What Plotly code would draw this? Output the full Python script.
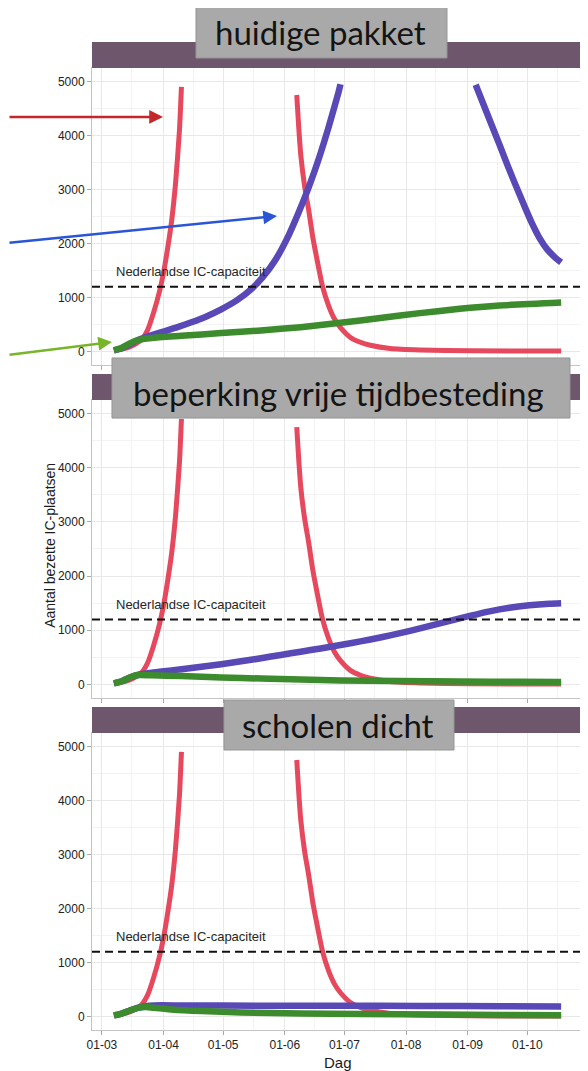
import plotly.graph_objects as go
from plotly.subplots import make_subplots

# ---- data ----
panel_titles = ["huidige pakket", "beperking vrije tijdbesteding", "scholen dicht"]
ic_capacity = 1200
ic_label = "Nederlandse IC-capaciteit"
y_label = "Aantal bezette IC-plaatsen"
x_label = "Dag"

month_ticks = ["2020-03-01", "2020-04-01", "2020-05-01", "2020-06-01",
               "2020-07-01", "2020-08-01", "2020-09-01", "2020-10-01"]
month_labels = ["01-03", "01-04", "01-05", "01-06", "01-07", "01-08", "01-09", "01-10"]
y_ticks = [0, 1000, 2000, 3000, 4000, 5000]

# red: same scenario in every panel (values above 5000 dropped)
red_dates = ["2020-03-07", "2020-03-11", "2020-03-15", "2020-03-18", "2020-03-21",
             "2020-03-24", "2020-03-27", "2020-03-30", "2020-04-01", "2020-04-03",
             "2020-04-05", "2020-04-07", "2020-04-09", "2020-04-10", "2020-04-11",
             "2020-06-07", "2020-06-08", "2020-06-09", "2020-06-11", "2020-06-13",
             "2020-06-15", "2020-06-17", "2020-06-20", "2020-06-23", "2020-06-26",
             "2020-06-29", "2020-07-04", "2020-07-09", "2020-07-14", "2020-07-24",
             "2020-08-08", "2020-09-02", "2020-10-18"]
red_values = [25, 45, 85, 140, 220,
              400, 720, 1120, 1460, 1900,
              2400, 3100, 4100, 4900, None,
              4750, 4150, 3650, 3050, 2620,
              2130, 1740, 1200, 850, 600,
              440, 260, 170, 115, 55,
              28, 12, 8]

# panel 1: huidige pakket
blue1_dates = ["2020-03-07", "2020-03-11", "2020-03-15", "2020-03-19", "2020-03-25",
               "2020-03-31", "2020-04-08", "2020-04-15", "2020-04-22", "2020-04-30",
               "2020-05-08", "2020-05-15", "2020-05-21", "2020-05-27", "2020-06-02",
               "2020-06-08", "2020-06-13", "2020-06-18", "2020-06-23", "2020-06-28",
               "2020-06-29", "2020-06-30",
               "2020-09-05", "2020-09-09", "2020-09-13", "2020-09-17", "2020-09-21",
               "2020-09-25", "2020-09-29", "2020-10-03", "2020-10-07", "2020-10-11",
               "2020-10-15", "2020-10-18"]
blue1_values = [20, 60, 130, 210, 290,
                360, 450, 540, 640, 780,
                950, 1150, 1380, 1680, 2080,
                2580, 3040, 3560, 4150, 4800,
                4950, None,
                4940, 4570, 4200, 3830, 3450,
                3090, 2740, 2400, 2110, 1890,
                1740, 1650]
green1_dates = ["2020-03-07", "2020-03-11", "2020-03-15", "2020-03-19", "2020-03-26",
                "2020-04-10", "2020-04-30", "2020-05-20", "2020-06-09", "2020-06-29",
                "2020-07-19", "2020-08-08", "2020-08-28", "2020-09-17", "2020-10-18"]
green1_values = [20, 70, 150, 210, 250,
                 290, 340, 390, 450, 530,
                 620, 710, 790, 850, 905]

# panel 2: beperking vrije tijdbesteding
blue2_dates = ["2020-03-07", "2020-03-11", "2020-03-15", "2020-03-19", "2020-03-26",
               "2020-04-05", "2020-04-15", "2020-04-25", "2020-05-05", "2020-05-15",
               "2020-05-25", "2020-06-04", "2020-06-14", "2020-06-24", "2020-07-04",
               "2020-07-14", "2020-07-24", "2020-08-03", "2020-08-13", "2020-08-23",
               "2020-09-02", "2020-09-12", "2020-09-22", "2020-10-02", "2020-10-12",
               "2020-10-18"]
blue2_values = [20, 60, 130, 175, 215,
                260, 305, 350, 400, 455,
                515, 575, 635, 695, 760,
                830, 905, 990, 1080, 1175,
                1265, 1350, 1415, 1460, 1490,
                1500]
green2_dates = ["2020-03-07", "2020-03-11", "2020-03-15", "2020-03-19", "2020-03-26",
                "2020-04-10", "2020-04-30", "2020-05-20", "2020-06-09", "2020-06-29",
                "2020-07-29", "2020-08-28", "2020-09-27", "2020-10-18"]
green2_values = [20, 60, 130, 175, 170,
                 155, 130, 110, 90, 75,
                 65, 55, 50, 45]

# panel 3: scholen dicht
blue3_dates = ["2020-03-07", "2020-03-11", "2020-03-15", "2020-03-19", "2020-03-23",
               "2020-03-27", "2020-04-10", "2020-05-20", "2020-06-29", "2020-08-08",
               "2020-09-17", "2020-10-18"]
blue3_values = [20, 55, 110, 160, 190,
                205, 205, 200, 200, 195,
                190, 185]
green3_dates = ["2020-03-07", "2020-03-11", "2020-03-15", "2020-03-19", "2020-03-23",
                "2020-03-27", "2020-04-05", "2020-04-20", "2020-05-10", "2020-06-09",
                "2020-07-09", "2020-08-18", "2020-09-17", "2020-10-18"]
green3_values = [20, 55, 110, 160, 175,
                 160, 130, 100, 75, 55,
                 45, 35, 28, 25]

blue_series = [(blue1_dates, blue1_values), (blue2_dates, blue2_values), (blue3_dates, blue3_values)]
green_series = [(green1_dates, green1_values), (green2_dates, green2_values), (green3_dates, green3_values)]

# ---- style ----
red_color = '#e6485e'
blue_color = '#5849b6'
green_color = '#3c8b2c'
strip_color = '#6e566c'
box_color = '#a9a9a9'
text_color = '#222222'

# the page body has an 8px margin, so the figure is 8px smaller than the window
fig_w, fig_h = 580, 1063

plot_domains = [[0.6731, 0.9737], [0.3360, 0.6377], [0.0, 0.3006]]
strip_domains = [[0.9737, 1.0], [0.6377, 0.6640], [0.3006, 0.3269]]
title_boxes = [(0.2118, 0.7230, 0.9838, 1.036), (0.0407, 0.9735, 0.6194, 0.6802), (0.2688, 0.7373, 0.2834, 0.3340)]
title_pos = [(0.4644, 1.0101), (0.503, 0.6447), (0.502, 0.3087)]

fig = make_subplots(rows=3, cols=1, shared_xaxes=True, vertical_spacing=0.02)

for i in range(3):
    row = i + 1
    fig.add_trace(go.Scatter(x=red_dates, y=red_values, mode='lines',
                             line=dict(color=red_color, width=5, shape='spline', smoothing=0.6),
                             connectgaps=False, showlegend=False), row=row, col=1)
    bx, by = blue_series[i]
    fig.add_trace(go.Scatter(x=bx, y=by, mode='lines',
                             line=dict(color=blue_color, width=6.5, shape='spline', smoothing=0.6),
                             connectgaps=False, showlegend=False), row=row, col=1)
    gx, gy = green_series[i]
    fig.add_trace(go.Scatter(x=gx, y=gy, mode='lines',
                             line=dict(color=green_color, width=6.5, shape='spline', smoothing=0.6),
                             showlegend=False), row=row, col=1)

    suffix = '' if i == 0 else str(row)
    fig.update_layout({
        'xaxis' + suffix: dict(
            domain=[0, 1], range=["2020-02-25", "2020-10-29"], type='date',
            tickvals=month_ticks, ticktext=month_labels, showticklabels=(i == 2),
            ticks='outside', ticklen=4, tickcolor='#aaaaaa',
            showgrid=True, gridcolor='#e8e8e8', gridwidth=1,
            minor=dict(showgrid=True, gridcolor='#f3f3f3', dtick="M1", tick0="2020-03-16"),
            showline=True, linecolor='#c4c4c4', linewidth=1, mirror=True,
            zeroline=False, automargin=False,
            tickfont=dict(family='Liberation Sans, Arial', size=12, color=text_color)),
        'yaxis' + suffix: dict(
            domain=plot_domains[i], range=[-250, 5250], tickvals=y_ticks,
            ticks='outside', ticklen=4, tickcolor='#aaaaaa',
            showgrid=True, gridcolor='#e8e8e8', gridwidth=1,
            minor=dict(showgrid=True, gridcolor='#f3f3f3', dtick=500, tick0=500),
            showline=True, linecolor='#c4c4c4', linewidth=1, mirror=True,
            zeroline=False, automargin=False,
            tickfont=dict(family='Liberation Sans, Arial', size=12, color=text_color)),
    })

    xref = 'x' + suffix
    yref = 'y' + suffix
    fig.add_shape(type='line', xref=xref + ' domain', yref=yref, x0=0, x1=1,
                  y0=ic_capacity, y1=ic_capacity,
                  line=dict(color='#111111', width=2, dash='8px,5px'))
    fig.add_annotation(x="2020-03-07", y=1480, xref=xref, yref=yref, text=ic_label,
                       showarrow=False, xanchor='left', yanchor='middle',
                       font=dict(family='Liberation Sans, Arial', size=13, color='#262626'))

    # facet strip
    fig.add_shape(type='rect', xref='paper', yref='paper', x0=0, x1=1,
                  y0=strip_domains[i][0], y1=strip_domains[i][1],
                  fillcolor=strip_color, line=dict(width=0), layer='above')

for i in range(3):
    x0, x1, y0, y1 = title_boxes[i]
    fig.add_shape(type='rect', xref='paper', yref='paper', x0=x0, x1=x1, y0=y0, y1=y1,
                  fillcolor=box_color, line=dict(color='#959595', width=1), layer='above')
    tx, ty = title_pos[i]
    fig.add_annotation(x=tx, y=ty, xref='paper', yref='paper', text=panel_titles[i],
                       showarrow=False, xanchor='center', yanchor='middle',
                       font=dict(family='Lato', size=33, color='#141414'))

# arrows pointing at the three curves
arrows = [(0.1446, 0.9241, -165, 0, '#c4262b'),
          (0.3768, 0.8239, -280, 27, '#2a55d6'),
          (0.0407, 0.6964, -115, 13, '#78b52b')]
for ax_x, ax_y, dx, dy, col in arrows:
    fig.add_annotation(x=ax_x, y=ax_y, xref='paper', yref='paper', text='',
                       showarrow=True, ax=dx, ay=dy, arrowhead=2, arrowsize=1.1,
                       arrowwidth=2.5, arrowcolor=col)

fig.add_annotation(x=-0.106, y=0.491, xref='paper', yref='paper', text=y_label,
                   showarrow=False, textangle=-90,
                   font=dict(family='Liberation Sans, Arial', size=14, color='#1a1a1a'))
fig.add_annotation(x=0.5, y=-0.0334, xref='paper', yref='paper', text=x_label,
                   showarrow=False, yanchor='middle',
                   font=dict(family='Liberation Sans, Arial', size=15, color='#1a1a1a'))

fig.update_layout(width=fig_w, height=fig_h,
                  margin=dict(l=84, r=5, t=34, b=41),
                  paper_bgcolor='white', plot_bgcolor='white')

fig.write_html("out.html")
